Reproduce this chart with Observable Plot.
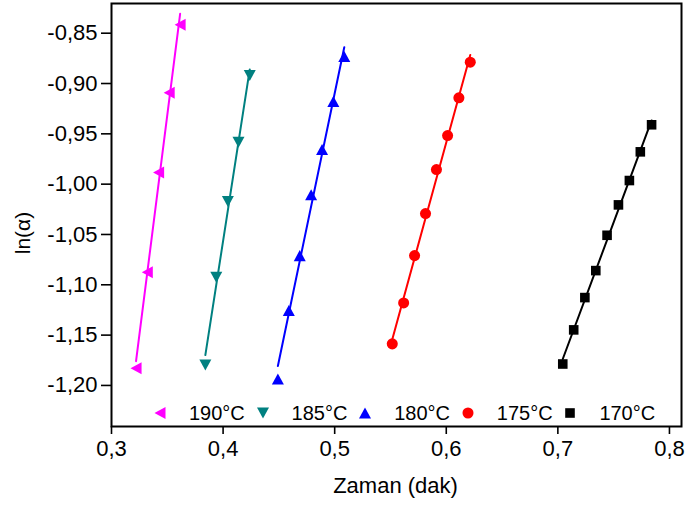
<!DOCTYPE html>
<html><head><meta charset="utf-8">
<script src="https://cdn.jsdelivr.net/npm/d3@7"></script>
<script src="https://cdn.jsdelivr.net/npm/@observablehq/plot@0.6"></script>
<style>
html,body{margin:0;padding:0;background:#fff;}
#chart{position:relative;width:688px;height:506px;font-family:"Liberation Sans",Arial,sans-serif;}
#legend{position:absolute;left:153px;top:401px;display:flex;}
.item{display:flex;align-items:center;width:102.6px;height:24px;}
.item svg{flex:none;display:block;}
.item span{margin-left:22px;font-size:20px;color:#000;line-height:24px;}
</style></head><body><div id="chart"></div>
<script>
// ---- data ----
const seriesNames = ["190°C", "185°C", "180°C", "175°C", "170°C"];
const seriesColors = ["#ff00ff", "#008080", "#0000ff", "#ff0000", "#000000"];
const seriesShapes = ["triangleLeft", "triangleDown", "triangleUp", "circle", "square"];

const x190 = [0.3220, 0.3321, 0.3422, 0.3517, 0.3615];
const y190 = [-1.183, -1.0876, -0.9885, -0.9092, -0.8417];

const x185 = [0.3841, 0.3939, 0.4043, 0.4138, 0.4239];
const y185 = [-1.1796, -1.0925, -1.0173, -0.9583, -0.8920];

const x180 = [0.4491, 0.4589, 0.4687, 0.4789, 0.4887, 0.4988, 0.5086];
const y180 = [-1.1936, -1.1256, -1.0710, -1.0106, -0.9656, -0.9179, -0.8732];

const x175 = [0.5516, 0.5618, 0.5716, 0.5814, 0.5912, 0.6012, 0.6113, 0.6215];
const y175 = [-1.1587, -1.1180, -1.0710, -1.0292, -0.9855, -0.9517, -0.9142, -0.8788];

const x170 = [0.7044, 0.7142, 0.7242, 0.7340, 0.7441, 0.7543, 0.7641, 0.7739, 0.7840];
const y170 = [-1.1787, -1.1448, -1.1127, -1.0859, -1.0508, -1.0206, -0.9964, -0.9679, -0.9410];

const xTicks = [0.3, 0.4, 0.5, 0.6, 0.7, 0.8];
const yTicks = [-1.20, -1.15, -1.10, -1.05, -1.00, -0.95, -0.90, -0.85];
const xLabel = "Zaman (dak)";
const yLabel = "ln(α)";

// ---- build ----
const xs = [x190, x185, x180, x175, x170];
const ys = [y190, y185, y180, y175, y170];
const tables = seriesNames.map((s, i) => xs[i].map((x, j) => ({series: s, x, y: ys[i][j]})));

function makeSymbol(kind) {
  return {
    draw(ctx, size) {
      const r = Math.sqrt(size / Math.PI);
      if (kind === "triangleUp") {
        ctx.moveTo(0, -0.92 * r); ctx.lineTo(r, 0.92 * r); ctx.lineTo(-r, 0.92 * r); ctx.closePath();
      } else if (kind === "triangleDown") {
        ctx.moveTo(0, 0.92 * r); ctx.lineTo(r, -0.92 * r); ctx.lineTo(-r, -0.92 * r); ctx.closePath();
      } else if (kind === "triangleLeft") {
        ctx.moveTo(-0.92 * r, 0); ctx.lineTo(0.92 * r, -r); ctx.lineTo(0.92 * r, r); ctx.closePath();
      } else if (kind === "circle") {
        const c = 0.92 * r;
        ctx.moveTo(c, 0); ctx.arc(0, 0, c, 0, 2 * Math.PI);
      } else {
        const h = 0.8 * r;
        ctx.moveTo(-h, -h); ctx.lineTo(h, -h); ctx.lineTo(h, h); ctx.lineTo(-h, h); ctx.closePath();
      }
    }
  };
}
const symbols = seriesShapes.map(makeSymbol);

const fmtX = d => d3.format(".1f")(d).replace("−", "-").replace(".", ",");
const fmtY = d => d3.format(".2f")(d).replace("−", "-").replace(".", ",");

const font = '"Liberation Sans", Arial, sans-serif';

const plot = Plot.plot({
  width: 688, height: 506,
  marginLeft: 111, marginRight: 7, marginTop: 3, marginBottom: 80,
  x: {domain: [0.3, 0.8108]},
  y: {domain: [-1.2408, -0.8205]},
  style: {fontFamily: font, color: "#000", background: "#fff", overflow: "visible"},
  marks: [
    Plot.axisX({ticks: xTicks, tickFormat: fmtX, tickSize: 8, tickPadding: 6, fontSize: 22, label: null, strokeWidth: 1.6}),
    Plot.axisY({ticks: yTicks, tickFormat: fmtY, tickSize: 10, tickPadding: 4, fontSize: 22, label: null, strokeWidth: 1.6}),
    ...tables.map((t, i) => Plot.linearRegressionY(t, {x: "x", y: "y", stroke: seriesColors[i], strokeWidth: 2, ci: 0})),
    ...tables.map((t, i) => Plot.dot(t, {x: "x", y: "y", symbol: symbols[i], fill: seriesColors[i], stroke: "none", r: 6})),
    Plot.frame({stroke: "#000", strokeWidth: 2})
  ]
});

const chart = document.getElementById("chart");
chart.appendChild(plot);

const svg = d3.select(plot);
svg.append("text")
  .attr("x", 395.5).attr("y", 493)
  .attr("text-anchor", "middle")
  .attr("font-size", 22).attr("font-family", font).attr("fill", "#000")
  .text(xLabel);
svg.append("text")
  .attr("transform", "translate(29.5,233) rotate(-90)")
  .attr("text-anchor", "middle")
  .attr("font-size", 21).attr("font-family", font).attr("fill", "#000")
  .text(yLabel);

// legend (inside plot area, bottom)
const legend = d3.select(chart).append("div").attr("id", "legend");
seriesNames.forEach((name, i) => {
  const item = legend.append("div").attr("class", "item");
  const s = item.append("svg").attr("width", 14).attr("height", 14);
  const p = d3.path();
  symbols[i].draw(p, Math.PI * 36);
  s.append("path").attr("transform", "translate(7,7)").attr("d", p.toString()).attr("fill", seriesColors[i]);
  item.append("span").text(name);
});
</script>
</body></html>
